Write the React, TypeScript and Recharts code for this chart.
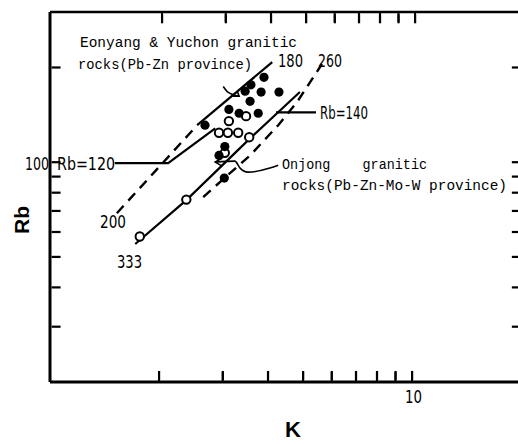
import React from 'react';
import { ComposedChart, XAxis, YAxis, Scatter, Line } from 'recharts';

// Rb (ppm) vs K (%), log-log
const kTicks = [2, 3, 4, 5, 6, 7, 8, 9, 10];
const rbTicks = [30, 40, 50, 60, 70, 80, 90, 100, 200];
const kMin = 1;
const kMax = 20;
const rbMin = 20;
const rbMax = 300;

// Eonyang & Yuchon granitic rocks (filled)
const eonyangK = [3.9, 3.59, 3.46, 3.83, 4.29, 3.57, 3.12, 3.33, 3.76, 2.68, 3.04, 2.93, 3.03];
const eonyangRb = [186, 176, 168, 167, 167, 156, 147, 143, 143, 131, 112, 105, 89];

// Onjong granitic rocks (open)
const onjongK = [3.48, 3.12, 2.93, 3.1, 3.31, 3.55, 3.04, 2.38, 1.77];
const onjongRb = [140, 135, 124, 124, 124, 120, 107, 76, 58];

// boundary / ratio lines
const rb120K = [1.51, 2.12, 2.86];
const rb120Rb = [99.3, 99.3, 128];
const dash200K = [1.53, 2.55];
const dash200Rb = [68.8, 131];
const solid180K = [2.55, 4.11];
const solid180Rb = [131, 208];
const solid333K = [1.72, 2.38, 3.57, 4.9];
const solid333Rb = [54.9, 75.7, 119, 167];
const dash260K = [2.65, 3.03, 3.57, 4.27, 4.81, 5.64];
const dash260Rb = [77.4, 88.9, 105, 131, 155, 205];
const rb140K = [4.21, 5.43];
const rb140Rb = [144, 144];

// label leaders
const eonLeadK = [3.01, 3.1, 3.33];
const eonLeadRb = [174, 167, 162];
const eonHeadK = [3.2, 3.33, 3.29];
const eonHeadRb = [162, 162, 168];
const onjLeadK = [2.86, 3.24, 3.35, 3.52, 4.05, 4.27];
const onjLeadRb = [100, 100.7, 95.7, 92.9, 95.7, 97.8];
const onjHeadK = [2.99, 2.86, 2.99];
const onjHeadRb = [103, 100, 97.1];

const zip = (ks: number[], rbs: number[]) => ks.map((k, i) => ({ k, rb: rbs[i] }));

const narrow = "'Liberation Sans Narrow', 'DejaVu Sans Condensed', 'Liberation Sans', sans-serif";
const mono = "'Liberation Mono', 'DejaVu Sans Mono', monospace";

// chart box
const W = 530;
const H = 444;
const margin = { top: 10, right: 7, bottom: 32, left: 10 };
const leftAxisW = 40;
const rightAxisW = 2;
const topAxisH = 2;
const bottomAxisH = 30;
const plotL = margin.left + leftAxisW;
const plotR = W - margin.right - rightAxisW;
const plotT = margin.top + topAxisH;
const plotB = H - margin.bottom - bottomAxisH;

const lines = [
  { id: 'rb120', data: zip(rb120K, rb120Rb), dash: undefined, w: 2.2 },
  { id: 'd200', data: zip(dash200K, dash200Rb), dash: '10 7', w: 2.4 },
  { id: 's180', data: zip(solid180K, solid180Rb), dash: undefined, w: 2.2 },
  { id: 's333', data: zip(solid333K, solid333Rb), dash: undefined, w: 2.2 },
  { id: 'd260', data: zip(dash260K, dash260Rb), dash: '10 7', w: 2.4 },
  { id: 'rb140', data: zip(rb140K, rb140Rb), dash: undefined, w: 2.2 },
  { id: 'eonHead', data: zip(eonHeadK, eonHeadRb), dash: undefined, w: 1.6 },
  { id: 'onjHead', data: zip(onjHeadK, onjHeadRb), dash: undefined, w: 1.6 },
];

// inward frame ticks, anchored just inside the frame
const tickSets = [
  { id: 'left', data: rbTicks.map((rb) => ({ k: 1.01, rb })), dx: 9, dy: 0, off: 0 },
  { id: 'right', data: rbTicks.map((rb) => ({ k: kMax * 0.999, rb })), dx: -9, dy: 0, off: 0 },
  { id: 'bottom', data: kTicks.map((k) => ({ k, rb: 20.3 })), dx: 0, dy: -9, off: 0 },
  { id: 'top', data: kTicks.map((k) => ({ k, rb: 295 })), dx: 0, dy: 9, off: 3 },
];

// same log mapping as the frame, used for the top/bottom tick marks on the frame itself
const xOfK = (k: number) => plotL + ((plotR - plotL) * Math.log10(k / kMin)) / Math.log10(kMax / kMin);

const axisProps = { tick: false, tickLine: false } as const;

export default function App() {
  return (
    <div style={{ position: 'absolute', left: 0, top: 0, width: 518, height: 444, overflow: 'hidden', background: '#fff' }}>
      <ComposedChart width={W} height={H} margin={margin}>
        <XAxis xAxisId="b" dataKey="k" type="number" scale="log" domain={[kMin, kMax]}
          ticks={kTicks} height={bottomAxisH} {...axisProps} axisLine={{ stroke: '#000', strokeWidth: 3 }} />
        <XAxis xAxisId="t" orientation="top" dataKey="k" type="number" scale="log" domain={[kMin, kMax]}
          ticks={kTicks} height={topAxisH} {...axisProps} axisLine={{ stroke: '#000', strokeWidth: 2.5 }} />
        <YAxis yAxisId="l" dataKey="rb" type="number" scale="log" domain={[rbMin, rbMax]}
          ticks={rbTicks} width={leftAxisW} {...axisProps} axisLine={{ stroke: '#000', strokeWidth: 3 }} />
        <YAxis yAxisId="r" orientation="right" dataKey="rb" type="number" scale="log" domain={[rbMin, rbMax]}
          ticks={rbTicks} width={rightAxisW} {...axisProps} axisLine={{ stroke: '#000', strokeWidth: 3 }} />

        {lines.map((l) => (
          <Line key={l.id} xAxisId="b" yAxisId="l" data={l.data} dataKey="rb" type="linear"
            stroke="#000" strokeWidth={l.w} strokeDasharray={l.dash} dot={false} activeDot={false}
            isAnimationActive={false} />
        ))}
        <Line xAxisId="b" yAxisId="l" data={zip(eonLeadK, eonLeadRb)} dataKey="rb" type="monotone"
          stroke="#000" strokeWidth={1.6} dot={false} activeDot={false} isAnimationActive={false} />
        <Line xAxisId="b" yAxisId="l" data={zip(onjLeadK, onjLeadRb)} dataKey="rb" type="monotone"
          stroke="#000" strokeWidth={1.6} dot={false} activeDot={false} isAnimationActive={false} />

        {tickSets.map((t) => (
          <Scatter key={t.id} name={t.id} xAxisId="b" yAxisId="l" data={t.data} isAnimationActive={false}
            shape={(p: any) => (
              <rect x={Math.min(p.cx + t.off, p.cx + t.off + t.dx) - (t.dx ? 0 : 1)}
                y={Math.min(p.cy, p.cy + t.dy) - (t.dy ? 0 : 1)}
                width={t.dx ? Math.abs(t.dx) : 2.2} height={t.dy ? Math.abs(t.dy) : 2.2} fill="#000" />
            )} />
        ))}

        <Scatter xAxisId="b" yAxisId="l" data={zip(onjongK, onjongRb)} isAnimationActive={false}
          shape={(p: any) => <circle cx={p.cx} cy={p.cy} r={4.2} fill="#fff" stroke="#000" strokeWidth={2} />} />
        <Scatter xAxisId="b" yAxisId="l" data={zip(eonyangK, eonyangRb)} isAnimationActive={false}
          shape={(p: any) => <circle cx={p.cx} cy={p.cy} r={4.6} fill="#000" />} />
      </ComposedChart>

      <svg width={518} height={444} style={{ position: 'absolute', left: 0, top: 0, pointerEvents: 'none' }}>
        <g stroke="#000" strokeWidth={2}>
          {kTicks.map((k) => (
            <line key={'bt' + k} x1={xOfK(k)} x2={xOfK(k)} y1={plotB - 1} y2={plotB - 10} />
          ))}
          {kTicks.map((k) => (
            <line key={'tt' + k} x1={xOfK(k) + 3} x2={xOfK(k) + 3} y1={plotT + 1} y2={plotT + 10} />
          ))}
        </g>
        <g fontFamily={mono} fontSize={14.5} fill="#000">
          <text x={80} y={47} textLength={217} lengthAdjust="spacingAndGlyphs">Eonyang &amp; Yuchon granitic</text>
          <text x={78} y={69} textLength={174} lengthAdjust="spacingAndGlyphs">rocks(Pb-Zn province)</text>
          <text x={282} y={169} textLength={145} lengthAdjust="spacingAndGlyphs" style={{ whiteSpace: 'pre' }}>{'Onjong    granitic'}</text>
          <text x={282} y={190} textLength={225} lengthAdjust="spacingAndGlyphs">rocks(Pb-Zn-Mo-W province)</text>
        </g>
        <g fontFamily={narrow} fontSize={18} fill="#000">
          <text x={278} y={67} textLength={25} lengthAdjust="spacingAndGlyphs">180</text>
          <text x={318} y={67} textLength={24} lengthAdjust="spacingAndGlyphs">260</text>
          <text x={320} y={119} textLength={48} lengthAdjust="spacingAndGlyphs">Rb=140</text>
          <text x={25} y={170} textLength={24} lengthAdjust="spacingAndGlyphs">100</text>
          <text x={57} y={170} textLength={58} lengthAdjust="spacingAndGlyphs">Rb=120</text>
          <text x={100} y={228} textLength={26} lengthAdjust="spacingAndGlyphs">200</text>
          <text x={117} y={268} textLength={25} lengthAdjust="spacingAndGlyphs">333</text>
          <text x={405} y={403} textLength={17} lengthAdjust="spacingAndGlyphs" fontSize={17}>10</text>
        </g>
        <text x={293} y={437} textAnchor="middle" fontFamily="'Liberation Sans', Arial, sans-serif" fontWeight="bold" fontSize={22}>K</text>
        <text x={21} y={220} textAnchor="middle" dominantBaseline="central" transform="rotate(-90 21 220)"
          fontFamily="'Liberation Sans', Arial, sans-serif" fontWeight="bold" fontSize={21}>Rb</text>
      </svg>
    </div>
  );
}
